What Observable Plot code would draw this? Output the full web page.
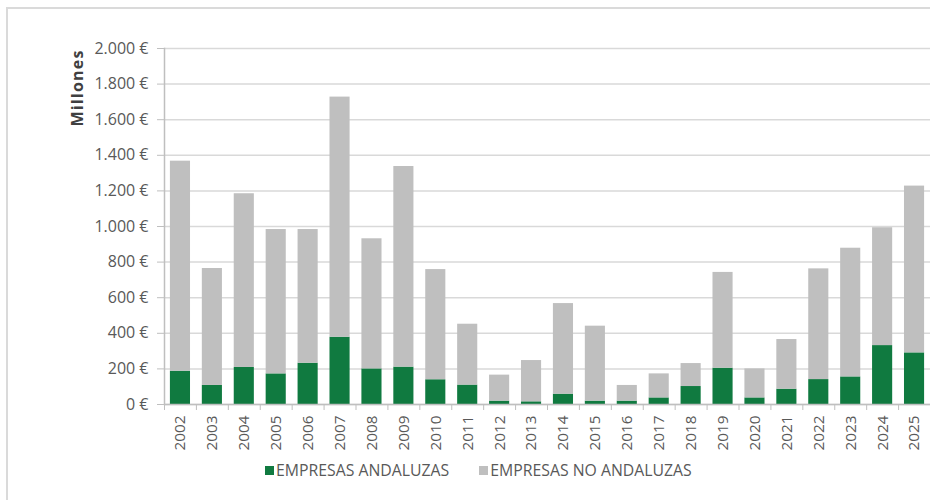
<!DOCTYPE html>
<html>
<head>
<meta charset="utf-8">
<script src="https://cdn.jsdelivr.net/npm/d3@7"></script>
<script src="https://cdn.jsdelivr.net/npm/@observablehq/plot@0.6"></script>
<style>
  html, body { margin: 0; padding: 0; background: #fff; overflow: hidden; }
  #wrap { position: relative; width: 930px; height: 500px; font-family: "Open Sans", sans-serif; }
  #border { position: absolute; left: 6px; top: 7px; width: 1000px; height: 600px;
            border-left: 2px solid #dadada; border-top: 2px solid #dadada; }
  #chart { position: absolute; left: 0; top: 0; }
  #ylabel { position: absolute; left: 77px; top: 88px; transform: translate(-50%, -50%) rotate(-90deg);
            font-weight: 700; font-size: 16px; letter-spacing: 1.2px; color: #404040; white-space: nowrap; }
  #legend { position: absolute; left: 265px; top: 459px; display: flex; align-items: center;
            font-size: 15.8px; color: #595959; white-space: nowrap; }
  .sw { display: inline-block; width: 9px; height: 9px; margin-right: 2px; }
  .item { display: flex; align-items: center; margin-right: 30px; }
</style>
</head>
<body>
<div id="wrap">
  <div id="border"></div>
  <div id="chart"></div>
  <div id="ylabel">Millones</div>
  <div id="legend"></div>
</div>
<script>
const years = ["2002","2003","2004","2005","2006","2007","2008","2009","2010","2011","2012","2013",
               "2014","2015","2016","2017","2018","2019","2020","2021","2022","2023","2024","2025"];
const series = ["EMPRESAS ANDALUZAS", "EMPRESAS NO ANDALUZAS"];
const colors = ["#107a40", "#bfbfbf"];
const andaluzas   = [187, 107, 208, 172, 232, 378, 200, 210, 139, 109, 19, 15, 58, 19, 19, 37, 101, 204, 37, 86, 140, 155, 331, 290];
const noAndaluzas = [1180, 657, 976, 811, 751, 1349, 731, 1127, 619, 342, 146, 232, 509, 421, 88, 135, 129, 538, 163, 279, 622, 723, 662, 937];
const yTicks = [0, 200, 400, 600, 800, 1000, 1200, 1400, 1600, 1800, 2000];

const table = [];
years.forEach((y, i) => {
  table.push({year: y, serie: series[0], value: andaluzas[i]});
  table.push({year: y, serie: series[1], value: noAndaluzas[i]});
});

const fmt = d => d3.format(",")(d).replace(/,/g, ".") + " €";

const W = 930, H = 450, ML = 164, MR = 0;
const step = (W - ML - MR) / years.length;

const chart = Plot.plot({
  width: W, height: H,
  marginLeft: ML, marginRight: MR, marginTop: 48, marginBottom: 46,
  style: {fontFamily: "Open Sans, sans-serif", fontSize: "15.3px", color: "#595959", background: "transparent"},
  x: {domain: years, paddingInner: 0.37, paddingOuter: 0.185, round: false, axis: null},
  y: {domain: [0, 2000], axis: null},
  color: {domain: series, range: colors},
  marks: [
    Plot.gridY(yTicks, {stroke: "#d9d9d9", strokeOpacity: 1, strokeWidth: 1.5}),
    Plot.barY(table, {x: "year", y: "value", fill: "serie", order: series}),
    Plot.ruleY([0], {stroke: "#bfbfbf", strokeWidth: 1.5}),
    Plot.frame({anchor: "left", stroke: "#bfbfbf", strokeWidth: 1.5}),
    Plot.axisY(yTicks, {tickFormat: fmt, tickSize: 7, tickPadding: 9, stroke: "#bfbfbf", fill: "#595959", fontSize: 16, label: null}),
    Plot.axisX({tickSize: 6, tickFormat: () => "", dx: -step / 2, stroke: "#bfbfbf", label: null}),
    Plot.axisX({tickSize: 0, tickPadding: 11, tickRotate: -90, fill: "#595959", label: null})
  ]
});
document.getElementById("chart").appendChild(chart);

const legend = document.getElementById("legend");
series.forEach((s, i) => {
  const it = document.createElement("div");
  it.className = "item";
  it.innerHTML = `<span class="sw" style="background:${colors[i]}"></span><span>${s}</span>`;
  legend.appendChild(it);
});
</script>
</body>
</html>
